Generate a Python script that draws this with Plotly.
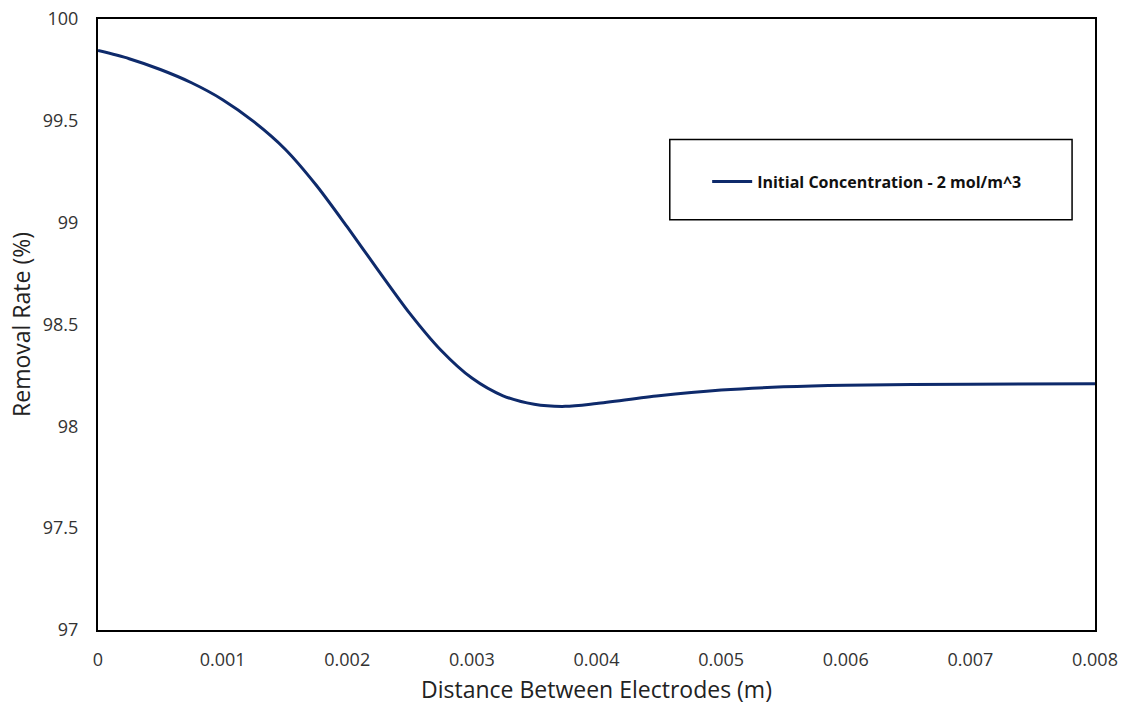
import plotly.graph_objects as go

# Removal rate versus electrode spacing
distance_m = [0.0, 0.00025, 0.0005, 0.00075, 0.001, 0.00125, 0.0015, 0.00175, 0.002,
              0.00225, 0.0025, 0.00275, 0.003, 0.00325, 0.0035, 0.00375, 0.004,
              0.0045, 0.005, 0.0055, 0.006, 0.007, 0.008]
removal_pct = [99.845, 99.805, 99.752, 99.687, 99.604, 99.496, 99.362, 99.185, 98.979,
               98.765, 98.556, 98.375, 98.237, 98.150, 98.108, 98.098, 98.112,
               98.150, 98.178, 98.194, 98.202, 98.207, 98.209]

series_name = "Initial Concentration - 2 mol/m^3"
x_ticks = [0, 0.001, 0.002, 0.003, 0.004, 0.005, 0.006, 0.007, 0.008]
x_tick_text = ["0", "0.001", "0.002", "0.003", "0.004", "0.005", "0.006", "0.007", "0.008"]
y_ticks = [97, 97.5, 98, 98.5, 99, 99.5, 100]
y_tick_text = ["97", "97.5", "98", "98.5", "99", "99.5", "100"]

FONT = "'Open Sans', sans-serif"

fig = go.Figure()
fig.add_trace(go.Scatter(
    x=distance_m, y=removal_pct, mode="lines", name=series_name,
    line=dict(color="#0E2A6B", width=3, shape="spline", smoothing=0.8),
))

# Legend frame
fig.add_shape(type="rect", xref="paper", yref="paper",
              x0=0.5735, x1=0.977, y0=0.6716, y1=0.8026,
              line=dict(color="black", width=1.5), fillcolor="white", layer="below")

fig.update_layout(
    width=1122, height=706,
    margin=dict(l=98, r=27, t=19, b=76),
    paper_bgcolor="white", plot_bgcolor="white",
    font=dict(family=FONT, color="#222222"),
    showlegend=True,
    legend=dict(x=0.611, y=0.7338, xanchor="left", yanchor="middle",
                bgcolor="rgba(0,0,0,0)", borderwidth=0,
                font=dict(family=FONT, size=16, color="#111111", weight="bold"),
                itemwidth=40),
    xaxis=dict(range=[0, 0.008], tickvals=x_ticks, ticktext=x_tick_text,
               automargin=False,
               showgrid=False, zeroline=False, showline=True, linecolor="black",
               linewidth=2, mirror=True, ticks="", ticklabelstandoff=12,
               tickfont=dict(size=18, color="#333333"),
               title=dict(text="Distance Between Electrodes (m)", standoff=12,
                          font=dict(size=23, color="#222222"))),
    yaxis=dict(range=[97, 100], tickvals=y_ticks, ticktext=y_tick_text,
               automargin=False,
               showgrid=False, zeroline=False, showline=True, linecolor="black",
               linewidth=2, mirror=True, ticks="", ticklabelstandoff=14,
               tickfont=dict(size=18, color="#333333"),
               title=dict(text="Removal Rate (%)", standoff=6,
                          font=dict(size=23, color="#222222"))),
)

fig.write_html("out.html")
